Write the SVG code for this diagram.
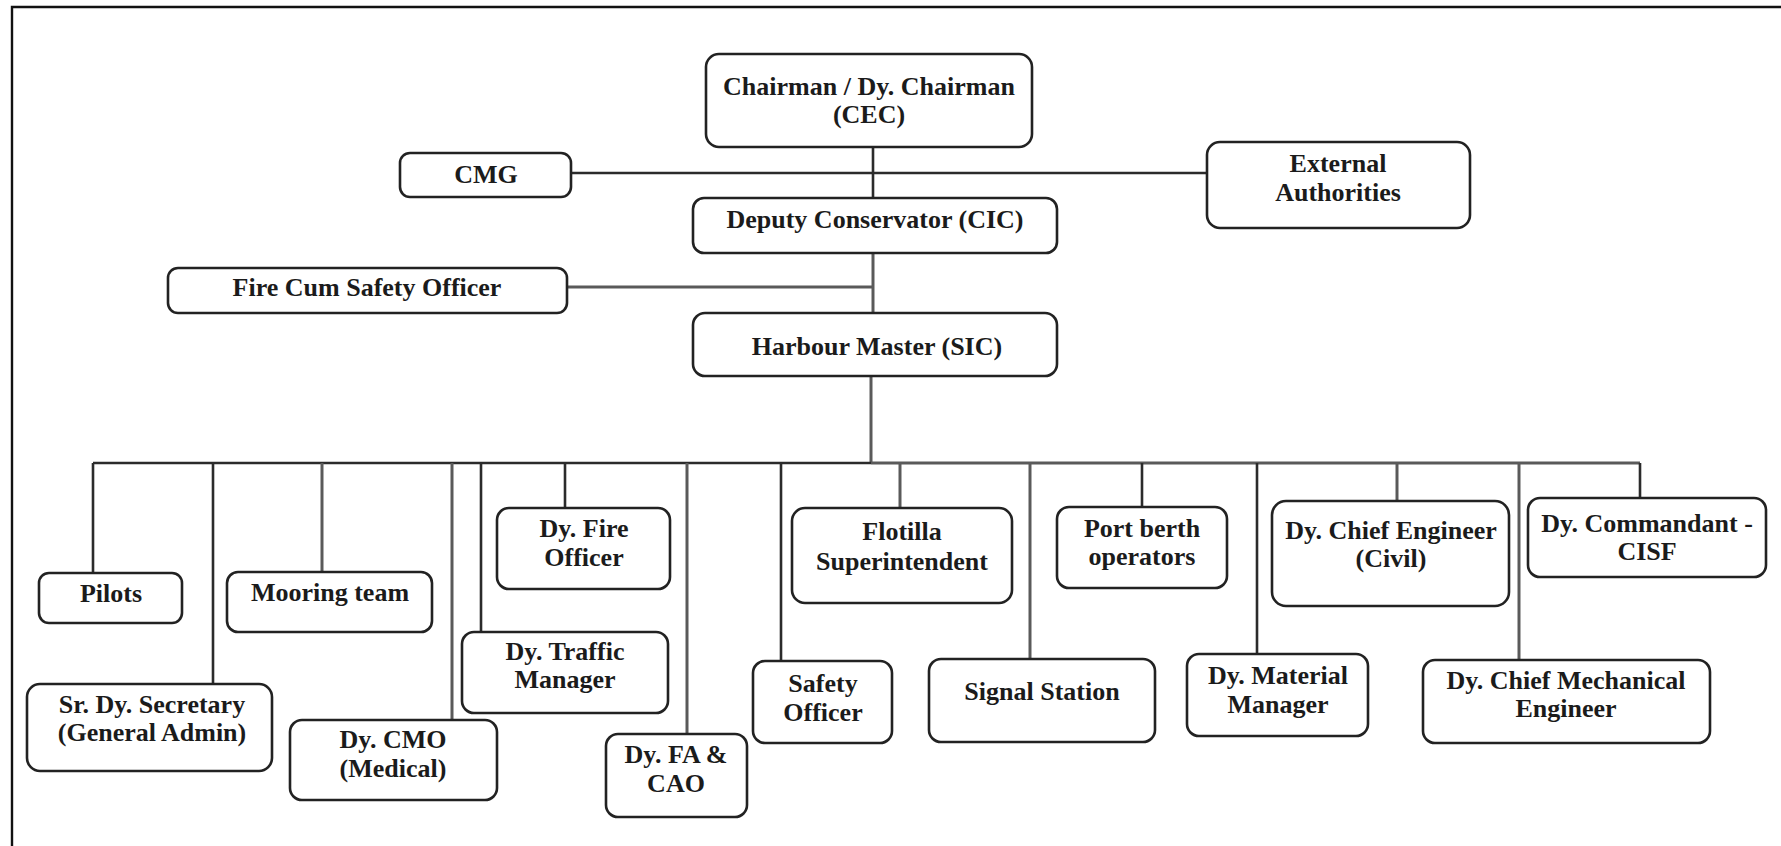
<svg xmlns="http://www.w3.org/2000/svg" width="1781" height="846" viewBox="0 0 1781 846">
  <style>
    .box { fill: #ffffff; stroke: #222222; stroke-width: 2.6; }
    .wire { stroke: #2b2b2b; stroke-width: 2.6; fill: none; }
    .wire.soft { stroke: #5a5a5a; stroke-width: 3; }
    .frame { stroke: #111111; stroke-width: 2.4; fill: none; }
    text { font-family: "Liberation Serif", "Times New Roman", serif; font-weight: bold; font-size: 26px; fill: #1b1b1b; text-anchor: middle; }
  </style>
  <rect width="1781" height="846" fill="#ffffff"/>
  <!-- page frame (left and top edges) -->
  <path class="frame" d="M12 846 V7 H1781"/>

  <!-- connectors -->
  <g id="connectors">
    <path class="wire" d="M873 147 V198"/>
    <path class="wire" d="M571 173 H1207"/>
    <path class="wire soft" d="M873 253 V313"/>
    <path class="wire soft" d="M567 287 H873"/>
    <path class="wire soft" d="M871 376 V463"/>
    <path class="wire" d="M93 463 H871"/>
    <path class="wire soft" d="M871 463 H1640"/>
    <path class="wire" d="M93 463 V573"/>
    <path class="wire" d="M213 463 V684"/>
    <path class="wire soft" d="M322 463 V572"/>
    <path class="wire soft" d="M452 463 V720"/>
    <path class="wire" d="M481 463 V632"/>
    <path class="wire" d="M565 463 V508"/>
    <path class="wire soft" d="M687 463 V734"/>
    <path class="wire" d="M781 463 V661"/>
    <path class="wire soft" d="M900 463 V508"/>
    <path class="wire soft" d="M1030 463 V659"/>
    <path class="wire" d="M1142 463 V507"/>
    <path class="wire" d="M1257 463 V654"/>
    <path class="wire soft" d="M1397 463 V501"/>
    <path class="wire soft" d="M1519 463 V660"/>
    <path class="wire" d="M1640 463 V498"/>
  </g>

  <g id="chairman">
    <rect class="box" x="706" y="54" width="326" height="93" rx="13"/>
    <text x="869" y="95">Chairman / Dy. Chairman</text>
    <text x="869" y="123">(CEC)</text>
  </g>
  <g id="cmg">
    <rect class="box" x="400" y="153" width="171" height="44" rx="10"/>
    <text x="486" y="183">CMG</text>
  </g>
  <g id="external-authorities">
    <rect class="box" x="1207" y="142" width="263" height="86" rx="13"/>
    <text x="1338" y="172">External</text>
    <text x="1338" y="201">Authorities</text>
  </g>
  <g id="deputy-conservator">
    <rect class="box" x="693" y="198" width="364" height="55" rx="11"/>
    <text x="875" y="228">Deputy Conservator (CIC)</text>
  </g>
  <g id="fire-cum-safety-officer">
    <rect class="box" x="168" y="268" width="399" height="45" rx="10"/>
    <text x="367" y="296">Fire Cum Safety Officer</text>
  </g>
  <g id="harbour-master">
    <rect class="box" x="693" y="313" width="364" height="63" rx="12"/>
    <text x="877" y="355">Harbour Master (SIC)</text>
  </g>

  <g id="pilots">
    <rect class="box" x="39" y="573" width="143" height="50" rx="10"/>
    <text x="111" y="602">Pilots</text>
  </g>
  <g id="mooring-team">
    <rect class="box" x="227" y="572" width="205" height="60" rx="11"/>
    <text x="330" y="601">Mooring team</text>
  </g>
  <g id="sr-dy-secretary">
    <rect class="box" x="27" y="684" width="245" height="87" rx="13"/>
    <text x="152" y="713">Sr. Dy. Secretary</text>
    <text x="152" y="741">(General Admin)</text>
  </g>
  <g id="dy-cmo">
    <rect class="box" x="290" y="720" width="207" height="80" rx="12"/>
    <text x="393" y="748">Dy. CMO</text>
    <text x="393" y="777">(Medical)</text>
  </g>
  <g id="dy-traffic-manager">
    <rect class="box" x="462" y="632" width="206" height="81" rx="12"/>
    <text x="565" y="660">Dy. Traffic</text>
    <text x="565" y="688">Manager</text>
  </g>
  <g id="dy-fire-officer">
    <rect class="box" x="497" y="508" width="173" height="81" rx="12"/>
    <text x="584" y="537">Dy. Fire</text>
    <text x="584" y="566">Officer</text>
  </g>
  <g id="dy-fa-cao">
    <rect class="box" x="606" y="734" width="141" height="83" rx="12"/>
    <text x="676" y="763">Dy. FA &amp;</text>
    <text x="676" y="792">CAO</text>
  </g>
  <g id="safety-officer">
    <rect class="box" x="753" y="661" width="139" height="82" rx="12"/>
    <text x="823" y="692">Safety</text>
    <text x="823" y="721">Officer</text>
  </g>
  <g id="flotilla-superintendent">
    <rect class="box" x="792" y="508" width="220" height="95" rx="13"/>
    <text x="902" y="540">Flotilla</text>
    <text x="902" y="570">Superintendent</text>
  </g>
  <g id="signal-station">
    <rect class="box" x="929" y="659" width="226" height="83" rx="12"/>
    <text x="1042" y="700">Signal Station</text>
  </g>
  <g id="port-berth-operators">
    <rect class="box" x="1057" y="507" width="170" height="81" rx="12"/>
    <text x="1142" y="537">Port berth</text>
    <text x="1142" y="565">operators</text>
  </g>
  <g id="dy-material-manager">
    <rect class="box" x="1187" y="654" width="181" height="82" rx="12"/>
    <text x="1278" y="684">Dy. Material</text>
    <text x="1278" y="713">Manager</text>
  </g>
  <g id="dy-chief-engineer-civil">
    <rect class="box" x="1272" y="501" width="237" height="105" rx="14"/>
    <text x="1391" y="539">Dy. Chief Engineer</text>
    <text x="1391" y="567">(Civil)</text>
  </g>
  <g id="dy-chief-mechanical-engineer">
    <rect class="box" x="1423" y="660" width="287" height="83" rx="12"/>
    <text x="1566" y="689">Dy. Chief Mechanical</text>
    <text x="1566" y="717">Engineer</text>
  </g>
  <g id="dy-commandant-cisf">
    <rect class="box" x="1528" y="498" width="238" height="79" rx="12"/>
    <text x="1647" y="532">Dy. Commandant -</text>
    <text x="1647" y="560">CISF</text>
  </g>
</svg>
